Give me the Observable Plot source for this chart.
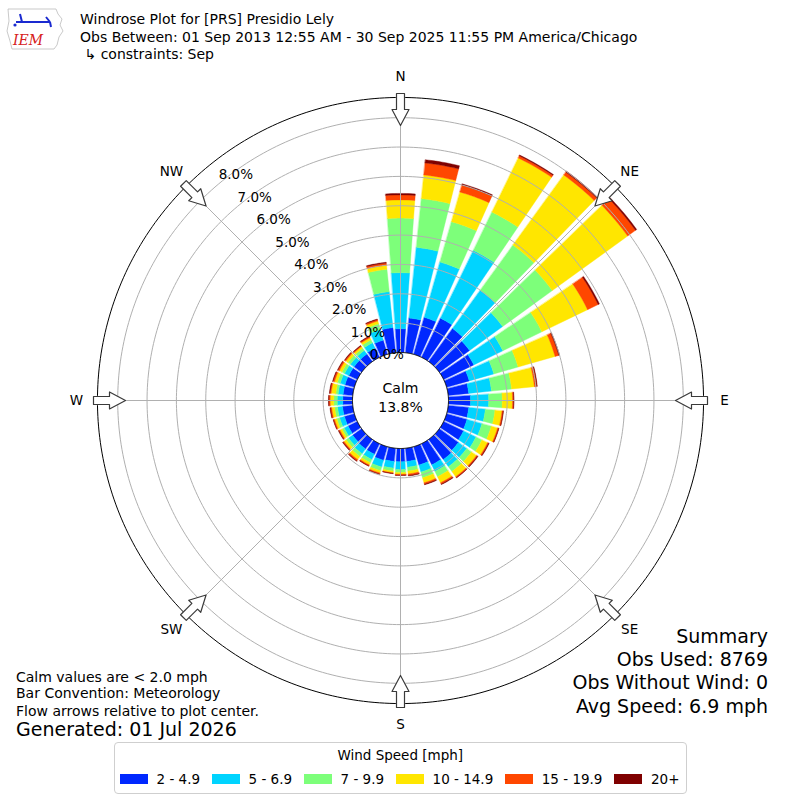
<!DOCTYPE html>
<html><head><meta charset="utf-8">
<script src="https://cdn.jsdelivr.net/npm/d3@7"></script>
<script src="https://cdn.jsdelivr.net/npm/@observablehq/plot@0.6"></script>
<style>
body{margin:0;background:#fff;font-family:"DejaVu Sans",sans-serif;color:#000;}
#wrap{position:relative;width:800px;height:800px;overflow:hidden;}
#chart{position:absolute;left:0;top:0;}
.t{position:absolute;white-space:pre;line-height:16px;font-size:14px;}
.big{font-size:19px;line-height:22px;}
.legend{position:absolute;left:113.5px;top:741.5px;width:571.5px;height:50px;border:1px solid #cfcfcf;border-radius:4px;background:#fff;font-size:13.5px;white-space:nowrap;}
.legend .ttl{position:absolute;left:0;right:0;top:4px;text-align:center;line-height:16px;}
.legend .row{position:absolute;left:5.5px;top:28px;display:flex;align-items:center;height:16px;}
.legend .sw{width:27.5px;height:10px;margin-right:9px;flex-shrink:0;}
.legend .it{display:flex;align-items:center;margin-right:12px;line-height:16px;flex-shrink:0;}
</style></head><body>
<div id="wrap">
  <div id="chart"></div>
  <svg style="position:absolute;left:4px;top:5px" width="62" height="48" viewBox="0 0 62 48">
    <path d="M4 4 L52 4 L54 9 L58 14 L56 20 L59 26 L55 32 L53 40 L50 44 L8 44 L6 36 L3 26 L5 16 Z" fill="none" stroke="#bbb" stroke-width="0.8"/>
    <path d="M12 17 L46 17 M16 9 L18 17 M42 12 L46 17 M46 17 L47 22" stroke="#1a2ad0" stroke-width="2" fill="none"/>
    <circle cx="11" cy="20" r="1.6" fill="#1a2ad0"/>
    <text x="9" y="40" font-family="DejaVu Serif, serif" font-style="italic" font-size="14" fill="#d62020">IEM</text>
  </svg>
  <div class="t" style="left:80px;top:11px">Windrose Plot for [PRS] Presidio Lely</div>
  <div class="t" style="left:80px;top:29px">Obs Between: 01 Sep 2013 12:55 AM - 30 Sep 2025 11:55 PM America/Chicago</div>
  <div class="t" style="left:80px;top:46px"> ↳ constraints: Sep</div>
  <div class="t" style="left:16px;top:669px">Calm values are &lt; 2.0 mph</div>
  <div class="t" style="left:16px;top:685px">Bar Convention: Meteorology</div>
  <div class="t" style="left:16px;top:703px">Flow arrows relative to plot center.</div>
  <div class="t big" style="left:16px;top:718px">Generated: 01 Jul 2026</div>
  <div class="t big" style="right:32px;top:625px;text-align:right">Summary</div>
  <div class="t big" style="right:32px;top:648px;text-align:right">Obs Used: 8769</div>
  <div class="t big" style="right:32px;top:671px;text-align:right">Obs Without Wind: 0</div>
  <div class="t big" style="right:32px;top:695px;text-align:right">Avg Speed: 6.9 mph</div>
  <div class="legend"><div class="ttl">Wind Speed [mph]</div><div class="row" id="legrow"></div></div>
</div>
<script>
// ---- data ----
const directions = d3.range(0, 360, 10);
const speedBins = ["2 - 4.9", "5 - 6.9", "7 - 9.9", "10 - 14.9", "15 - 19.9", "20+"];
const binColors = ["#0028ff", "#00d4ff", "#7dff7a", "#ffe600", "#ff4700", "#7f0000"];
const speed2to5   = [0.81,1.19,1.31,1.48,1.39,1.27,1.14,0.80,0.70,0.75,0.70,0.72,0.75,0.80,0.85,0.80,0.65,0.45,0.45,0.45,0.48,0.40,0.40,0.38,0.35,0.35,0.35,0.33,0.33,0.33,0.32,0.32,0.32,0.35,0.50,0.86];
const speed5to7   = [1.91,2.42,1.96,2.57,1.61,1.39,1.10,0.87,0.78,0.62,0.57,0.53,0.47,0.35,0.30,0.25,0.25,0.20,0.27,0.23,0.24,0.20,0.20,0.17,0.15,0.17,0.17,0.19,0.17,0.17,0.16,0.15,0.15,0.20,0.38,1.23];
const speed7to10  = [1.86,1.67,1.43,1.45,1.90,2.09,1.48,0.86,0.69,0.46,0.33,0.33,0.23,0.20,0.20,0.20,0.20,0.13,0.10,0.10,0.13,0.12,0.12,0.10,0.08,0.10,0.10,0.12,0.08,0.10,0.10,0.10,0.09,0.11,0.20,0.77];
const speed10to15 = [0.62,0.81,1.05,2.05,2.95,3.17,1.73,1.31,0.78,0.35,0.24,0.22,0.21,0.21,0.22,0.23,0.18,0.10,0.06,0.06,0.08,0.08,0.13,0.09,0.08,0.08,0.10,0.12,0.16,0.10,0.10,0.09,0.07,0.08,0.10,0.14];
const speed15to20 = [0.17,0.41,0.25,0.08,0.12,0.33,0.40,0.13,0.08,0.04,0.04,0.04,0.04,0.04,0.04,0.05,0.05,0.05,0.03,0.02,0.04,0.04,0.05,0.04,0.04,0.04,0.04,0.04,0.04,0.05,0.05,0.04,0.03,0.04,0.05,0.07];
const speed20plus = [0.05,0.11,0.04,0.03,0.04,0.05,0.05,0.03,0.02,0.01,0.01,0.01,0.02,0.02,0.01,0.02,0.02,0.02,0.01,0.01,0.01,0.01,0.02,0.02,0.02,0.01,0.02,0.02,0.02,0.02,0.02,0.02,0.02,0.02,0.02,0.03];
const ringTicks = [0, 1, 2, 3, 4, 5, 6, 7, 8];
const compassLabels = ["N", "NE", "E", "SE", "S", "SW", "W", "NW"];
const compassAngles = [0, 45, 90, 135, 180, 225, 270, 315];
const calmPct = 13.8;

// ---- geometry (in percent units) ----
const pxPerPct = 29.35;
const calmOffset = 48 / pxPerPct;   // calm circle radius
const outerPct = 8.69;              // outer frame
const halfSpan = 400 / pxPerPct;
const opening = 8.2;                // bar angular width, degrees
const series = [speed2to5, speed5to7, speed7to10, speed10to15, speed15to20, speed20plus];
const rad = (deg) => deg * Math.PI / 180;
const P = (deg, u) => ({x: u * Math.sin(rad(deg)), y: u * Math.cos(rad(deg))});

const wedges = [];
directions.forEach((d, i) => {
  let lo = 0;
  series.forEach((vals, j) => {
    const hi = lo + vals[i];
    const id = d + "-" + j, steps = 10;
    for (let s = 0; s <= steps; s++) wedges.push({id, bin: speedBins[j], ...P(d - opening / 2 + opening * s / steps, calmOffset + hi)});
    for (let s = steps; s >= 0; s--) wedges.push({id, bin: speedBins[j], ...P(d - opening / 2 + opening * s / steps, calmOffset + lo)});
    lo = hi;
  });
});
const circle = (u, key) => d3.range(0, 360, 1).map(a => ({k: key, ...P(a, u)}));
const rings = ringTicks.filter(k => k > 0).flatMap(k => circle(calmOffset + k, k));
const outer = circle(calmOffset + outerPct, "o");
const calm = circle(calmOffset, "c");
const spokes = compassAngles.map(a => {
  const p1 = P(a, calmOffset), p2 = P(a, calmOffset + outerPct);
  return {x1: p1.x, y1: p1.y, x2: p2.x, y2: p2.y};
});
// hollow flow arrows (shape in px along / across the direction)
const arrowShape = [[307,-4],[291,-4],[291,-8.5],[275,0],[291,8.5],[291,4],[307,4]];
const arrows = compassAngles.flatMap(a => arrowShape.map(([s, t]) => {
  const c = Math.cos(rad(a)), sn = Math.sin(rad(a));
  return {a, x: (s * sn + t * c) / pxPerPct, y: (s * c - t * sn) / pxPerPct};
}));
const ringLabels = ringTicks.map(k => ({label: k.toFixed(1) + "%", ...P(320, calmOffset + k)}));
const compass = compassLabels.map((l, i) => ({label: l, ...P(compassAngles[i], 324 / pxPerPct)}));

const chart = Plot.plot({
  width: 800, height: 800, margin: 0,
  x: {domain: [-halfSpan, halfSpan], axis: null},
  y: {domain: [-halfSpan, halfSpan], axis: null},
  color: {domain: speedBins, range: binColors},
  style: {background: "transparent", fontFamily: "DejaVu Sans", overflow: "visible"},
  marks: [
    Plot.line(wedges, {x: "x", y: "y", z: "id", fill: "bin", stroke: "bin", strokeWidth: 0.4, curve: "linear-closed"}),
    Plot.line(rings, {x: "x", y: "y", z: "k", stroke: "#b0b0b0", strokeWidth: 1, curve: "linear-closed"}),
    Plot.link(spokes, {x1: "x1", y1: "y1", x2: "x2", y2: "y2", stroke: "#b0b0b0", strokeWidth: 1}),
    Plot.line(outer, {x: "x", y: "y", stroke: "black", strokeWidth: 1, curve: "linear-closed"}),
    Plot.line(calm, {x: "x", y: "y", fill: "white", stroke: "black", strokeWidth: 1, curve: "linear-closed"}),
    Plot.line(arrows, {x: "x", y: "y", z: "a", fill: "white", stroke: "#3a3a3a", strokeWidth: 1.2, curve: "linear-closed"}),
    Plot.text(ringLabels, {x: "x", y: "y", text: "label", textAnchor: "start", dy: -9, fontSize: 13.5, fill: "black"}),
    Plot.text(compass, {x: "x", y: "y", text: "label", fontSize: 13.5, fill: "black"}),
    Plot.text([{t: "Calm"}], {x: 0, y: 0, text: "t", dy: -12, fontSize: 14, fill: "black"}),
    Plot.text([{t: calmPct.toFixed(1) + "%"}], {x: 0, y: 0, text: "t", dy: 7, fontSize: 14, fill: "black"})
  ]
});
document.getElementById("chart").appendChild(chart);

const row = document.getElementById("legrow");
speedBins.forEach((b, i) => {
  const it = document.createElement("div"); it.className = "it";
  const sw = document.createElement("div"); sw.className = "sw"; sw.style.background = binColors[i];
  const tx = document.createElement("span"); tx.textContent = b;
  it.appendChild(sw); it.appendChild(tx); row.appendChild(it);
});
</script>
</body></html>
